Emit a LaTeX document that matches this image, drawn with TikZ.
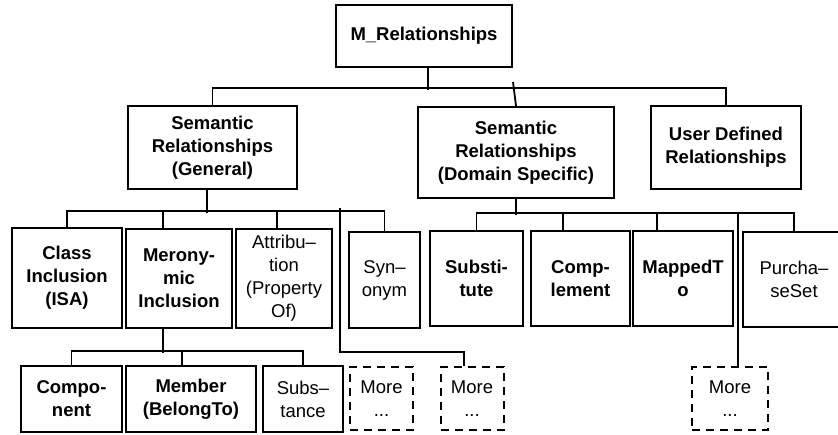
\documentclass[tikz,border=0pt]{standalone}
\usepackage{fontspec}
\setmainfont{Liberation Sans}
\usepackage{tikz}
\usetikzlibrary{positioning}

\begin{document}
\begin{tikzpicture}[x=1pt, y=-1pt, every node/.style={font=\fontsize{18.5}{23}\selectfont},
  rbox/.style={draw, line width=2pt, align=center, inner sep=2pt, font=\fontsize{18.5}{23}\selectfont\bfseries},
  nbox/.style={draw, line width=2pt, align=center, inner sep=2pt},
  mbox/.style={draw, line width=2pt, dash pattern=on 8pt off 6pt, align=center, inner sep=2pt, minimum width=63pt, minimum height=63pt},
  conn/.style={line width=1.8pt}]
\useasboundingbox (0,0) rectangle (838,434);
\clip (0,0) rectangle (838,434);
% Top level
\node[rbox, minimum width=176pt, minimum height=62pt] (top) at (424,36) {M\_Relationships};
\node[rbox, minimum width=169pt, minimum height=83pt] (gen) at (212.5,147.5) {Semantic\\Relationships\\(General)};
\node[rbox, minimum width=196pt, minimum height=91pt] (dom) at (516,152.5) {Semantic\\Relationships\\(Domain Specific)};
\node[rbox, minimum width=150pt, minimum height=83pt] (usr) at (726,147.5) {User Defined\\Relationships};
% General relationships
\node[rbox, minimum width=110pt, minimum height=100pt] (cls) at (67,278) {Class\\Inclusion\\(ISA)};
\node[rbox, minimum width=106pt, minimum height=99pt] (mer) at (179,278.5) {Merony-\\mic\\Inclusion};
\node[nbox, minimum width=96pt, minimum height=99pt] (att) at (284,278.5) {Attribu--\\tion\\(Property\\Of)};
\node[nbox, minimum width=71pt, minimum height=96pt] (syn) at (384.5,280) {Syn--\\onym};
% Meronymic inclusion
\node[rbox, minimum width=101pt, minimum height=66pt] (com) at (71.5,399) {Compo-\\nent};
\node[rbox, minimum width=130pt, minimum height=66pt] (mem) at (191,399) {Member\\(BelongTo)};
\node[nbox, minimum width=80pt, minimum height=66pt] (sbs) at (303,399) {Subs--\\tance};
\node[mbox] (mo1) at (381.5,398.5) {More\\...};
\node[mbox] (mo2) at (472,398.5) {More\\...};
% Domain specific
\node[rbox, minimum width=93pt, minimum height=95pt] (sub) at (476.5,278.5) {Substi-\\tute};
\node[rbox, minimum width=99pt, minimum height=95pt] (cmp) at (580.5,278.5) {Comp-\\lement};
\node[rbox, minimum width=100pt, minimum height=95pt] (map) at (683,278.5) {MappedT\\o};
\node[nbox, minimum width=102pt, minimum height=95pt] (pur) at (794,279.5) {Purcha--\\seSet};
\node[mbox, minimum width=76pt] (mo3) at (730,398.5) {More\\...};
% Connections
\draw[conn] (top.south) ++(4,0) -- ++(0,22);
\draw[conn] (gen.north) -- ++(0,-17) -| (usr.north);
\coordinate (dtip) at (513,82);
\draw[conn] (dtip) -- (dom.north);
\draw[conn] ([xshift=-5.5pt]gen.south) -- ++(0,23);
\draw[conn] (cls.north) -- ++(0,-16) -| (syn.north);
\draw[conn] ([xshift=-16pt]mer.north) -- ++(0,-17);
\draw[conn] ([xshift=-7pt]att.north) -- ++(0,-17);
\coordinate (gtip) at (340,208);
\draw[conn] (gtip) -- ++(0,144) -| ([xshift=-8pt]mo2.north);
\draw[conn] ([xshift=-16pt]mer.south) -- ++(0,24);
\draw[conn] (com.north) -- ++(0,-14) -| (sbs.north);
\draw[conn] ([xshift=-9pt]mem.north) -- ++(0,-14);
\draw[conn] (dom.south) -- ++(0,16);
\draw[conn] (sub.north) -- ++(0,-17) -| (pur.north);
\draw[conn] ([xshift=-17.5pt]cmp.north) -- ++(0,-17);
\draw[conn] ([xshift=-26pt]map.north) -- ++(0,-17);
\draw[conn] ([xshift=8pt]mo3.north) -- ++(0,-153);
\end{tikzpicture}
\end{document}
